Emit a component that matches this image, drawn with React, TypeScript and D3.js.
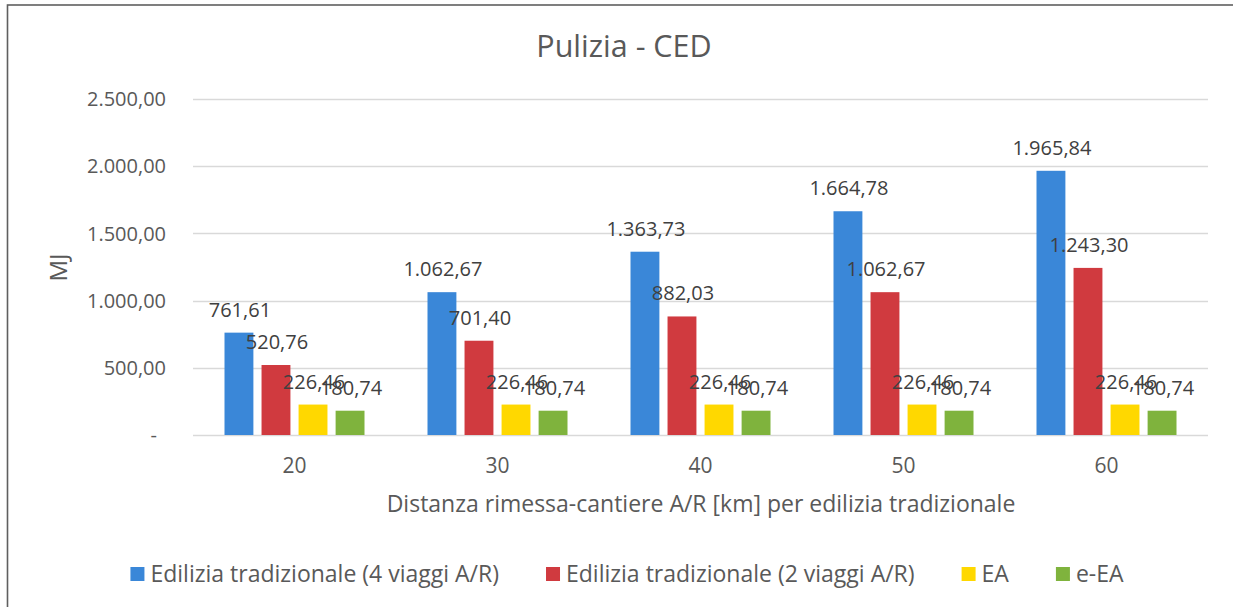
import React, { useEffect, useRef } from "react";
import * as d3 from "d3";

const categories = ["20", "30", "40", "50", "60"];
const seriesNames = [
  "Edilizia tradizionale (4 viaggi A/R)",
  "Edilizia tradizionale (2 viaggi A/R)",
  "EA",
  "e-EA",
];
const trad4 = [761.61, 1062.67, 1363.73, 1664.78, 1965.84];
const trad2 = [520.76, 701.4, 882.03, 1062.67, 1243.3];
const ea = [226.46, 226.46, 226.46, 226.46, 226.46];
const eea = [180.74, 180.74, 180.74, 180.74, 180.74];
const yTicks = [0, 500, 1000, 1500, 2000, 2500];
const colors = ["#3a87d8", "#d03a3f", "#ffd800", "#7fb33d"];

const title = "Pulizia - CED";
const xTitle = "Distanza rimessa-cantiere A/R [km] per edilizia tradizionale";
const yTitle = "MJ";

const W = 1233;
const H = 607;
const FONT = "'Open Sans', sans-serif";

export default function App() {
  const ref = useRef<SVGSVGElement | null>(null);

  useEffect(() => {
    const svg = d3.select(ref.current);
    svg.selectAll("*").remove();

    const locale = d3.formatLocale({
      decimal: ",",
      thousands: ".",
      grouping: [3],
      currency: ["€", ""],
    });
    const fmt = locale.format(",.2f");

    const values = [trad4, trad2, ea, eea];

    const x = d3.scaleBand<string>().domain(categories).range([193, 1208]).paddingInner(0).paddingOuter(0);
    const xs = d3
      .scaleBand<string>()
      .domain(seriesNames)
      .range([31.5, 171.5])
      .paddingInner(0.22);
    const y = d3.scaleLinear().domain([0, 2500]).range([435, 99]);

    // background & frame
    svg.append("rect").attr("x", 0).attr("y", 0).attr("width", W).attr("height", H).attr("fill", "#fff");
    svg
      .append("rect")
      .attr("x", 7.5)
      .attr("y", 5)
      .attr("width", 1245)
      .attr("height", 620)
      .attr("fill", "#fff")
      .attr("stroke", "#5f5f5f")
      .attr("stroke-width", 1.6);

    // title
    svg
      .append("text")
      .attr("x", 624)
      .attr("y", 57)
      .attr("text-anchor", "middle")
      .attr("font-family", FONT)
      .attr("font-size", 30.5)
      .attr("fill", "#595959")
      .text(title);

    // gridlines
    svg
      .append("g")
      .selectAll("line")
      .data(yTicks)
      .join("line")
      .attr("x1", 193)
      .attr("x2", 1208)
      .attr("y1", (d) => Math.round(y(d)) + 0.5)
      .attr("y2", (d) => Math.round(y(d)) + 0.5)
      .attr("stroke", "#d9d9d9")
      .attr("stroke-width", 1.3);

    // y tick labels
    svg
      .append("g")
      .selectAll("text")
      .data(yTicks)
      .join("text")
      .attr("x", (d) => (d === 0 ? 157 : 166))
      .attr("y", (d) => y(d))
      .attr("dy", "0.36em")
      .attr("text-anchor", "end")
      .attr("font-family", FONT)
      .attr("font-size", 20)
      .attr("fill", "#595959")
      .text((d) => (d === 0 ? "-" : fmt(d)));

    // y title
    svg
      .append("text")
      .attr("transform", `translate(67,267.5) rotate(-90)`)
      .attr("text-anchor", "middle")
      .attr("font-family", FONT)
      .attr("font-size", 24)
      .attr("fill", "#595959")
      .text(yTitle);

    // bars
    const groups = svg
      .append("g")
      .selectAll("g")
      .data(categories)
      .join("g")
      .attr("transform", (d) => `translate(${x(d)},0)`);

    seriesNames.forEach((s, si) => {
      groups
        .append("rect")
        .attr("x", xs(s) as number)
        .attr("width", xs.bandwidth())
        .attr("y", (_d, i) => y(values[si][i]))
        .attr("height", (_d, i) => y(0) - y(values[si][i]))
        .attr("fill", colors[si]);
    });

    seriesNames.forEach((s, si) => {
      groups
        .append("text")
        .attr("x", (xs(s) as number) + xs.bandwidth() / 2 + 1)
        .attr("y", (_d, i) => y(values[si][i]) - 16)
        .attr("text-anchor", "middle")
        .attr("font-family", FONT)
        .attr("font-size", 20)
        .attr("fill", "#404040")
        .text((_d, i) => fmt(values[si][i]));
    });

    // x tick labels
    svg
      .append("g")
      .selectAll("text")
      .data(categories)
      .join("text")
      .attr("x", (d) => (x(d) as number) + x.bandwidth() / 2)
      .attr("y", 473)
      .attr("text-anchor", "middle")
      .attr("font-family", FONT)
      .attr("font-size", 21)
      .attr("fill", "#595959")
      .text((d) => d);

    // x title
    svg
      .append("text")
      .attr("x", 701)
      .attr("y", 512)
      .attr("text-anchor", "middle")
      .attr("font-family", FONT)
      .attr("font-size", 23)
      .attr("fill", "#595959")
      .text(xTitle);

    // legend
    const lg = svg.append("g");
    const items = seriesNames.map((s, i) => {
      const g = lg.append("g");
      g.append("rect").attr("x", 0).attr("y", 567).attr("width", 14).attr("height", 14).attr("fill", colors[i]);
      const t = g
        .append("text")
        .attr("x", 20)
        .attr("y", 582)
        .attr("font-family", FONT)
        .attr("font-size", 23)
        .attr("fill", "#595959")
        .text(s);
      const w = (t.node() as SVGTextElement).getComputedTextLength();
      return { g, w: 20 + w };
    });
    const gap = 47;
    const total = items.reduce((a, it) => a + it.w, 0) + gap * (items.length - 1);
    let cx = 627 - total / 2;
    items.forEach((it) => {
      it.g.attr("transform", `translate(${cx},0)`);
      cx += it.w + gap;
    });
  }, []);

  return (
    <div style={{ position: "fixed", left: 0, top: 0, width: W, height: H, overflow: "hidden" }}>
      <svg ref={ref} width={W} height={H} style={{ display: "block" }} />
    </div>
  );
}
